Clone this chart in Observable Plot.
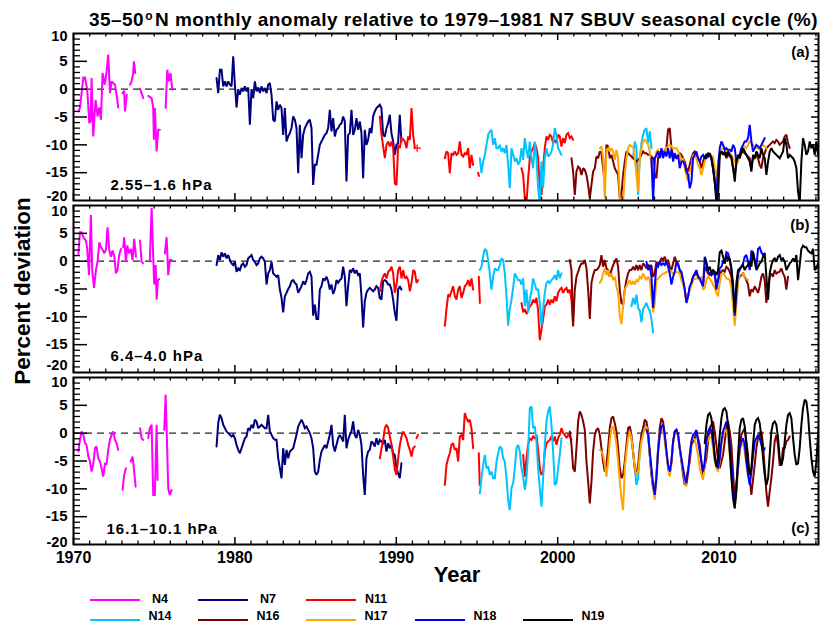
<!DOCTYPE html>
<html><head><meta charset="utf-8">
<script src="https://cdn.jsdelivr.net/npm/d3@7"></script>
<script src="https://cdn.jsdelivr.net/npm/@observablehq/plot@0.6"></script>
<style>
html,body{margin:0;padding:0;background:#fff;overflow:hidden}
#wrap{position:relative;width:823px;height:622px;font-family:"Liberation Sans",Arial,Helvetica,sans-serif;font-weight:bold;color:#000}
#title{position:absolute;left:0;top:0;width:823px;height:30px}
#title span.t{position:absolute;left:89px;top:10px;font-size:19px;line-height:19px;letter-spacing:0.3px;white-space:nowrap}
#chart{position:absolute;left:0;top:30px}
#ylab{position:absolute;left:23px;top:291px;transform:translate(-50%,-50%) rotate(-90deg);font-size:22.5px;white-space:nowrap;line-height:1}
#legend{position:absolute;left:0;top:594px;width:823px;height:28px}
.li{position:absolute;height:2.5px;width:50px}
.lt{position:absolute;font-size:12.5px;transform:translate(-50%,-50%);white-space:nowrap;line-height:11px}
</style>
</head><body>
<div id="wrap">
  <div id="title"><span class="t" id="ttl">35–50<span style="font-size:12px;position:relative;top:-6px;margin:0 2px 0 1px">o</span>N monthly anomaly relative to 1979–1981 N7 SBUV seasonal cycle (%)</span></div>
  <div id="chart"></div>
  <div id="ylab">Percent deviation</div>
  <div id="legend"></div>
</div>
<script>
// ---------------- series metadata ----------------
const SERIES = ["N4","N7","N11","N14","N16","N17","N18","N19"];
const COLORS = ["#ff00ff","#00007f","#ff0000","#00c3ff","#7f0000","#ffa500","#0000ff","#000000"];
const PANELS = ["a","b","c"];
const PANEL_TAGS = ["(a)","(b)","(c)"];
const PANEL_LEVELS = ["2.55–1.6 hPa","6.4–4.0 hPa","16.1–10.1 hPa"];
const X_TICKS = [1970,1980,1990,2000,2010];
const Y_TICKS = [10,5,0,-5,-10,-15,-20];
// sampling interval (years) of the digitised records
const STEP = 0.1032;

// ---------------- panel (a) 2.55–1.6 hPa ----------------
const N4_a = [
 {pts:[[1970.30,-4.0],[1970.40,-3.4],[1970.61,2.1],[1970.71,2.1],[1970.85,-0.1],[1970.98,-6.1],[1971.06,-5.8],[1971.12,2.0],[1971.22,-8.5],[1971.37,-1.9],[1971.49,-4.9],[1971.60,-3.3],[1971.70,-5.5],[1971.80,2.9],[1971.93,0.8],[1972.05,3.1],[1972.15,6.2],[1972.26,-0.7],[1972.36,1.4],[1972.46,1.1],[1972.57,0.8],[1972.67,-1.0],[1972.77,-3.3]]},
 {pts:[[1973.04,-0.7],[1973.14,-0.3],[1973.19,-4.0],[1973.30,-1.0]]},
 {pts:[[1973.50,0.8],[1973.60,1.4],[1973.70,2.9],[1973.74,5.0],[1973.83,2.9]]},
 {pts:[[1974.12,0.1],[1974.32,-1.6]]},
 {pts:[[1974.63,-1.2],[1974.84,-1.6],[1974.94,-3.4],[1974.98,-9.1],[1975.04,-3.4],[1975.15,-11.2],[1975.25,-7.3],[1975.35,-7.3]]},
 {pts:[[1975.71,-3.4],[1975.81,3.5],[1975.91,1.4],[1976.01,2.9],[1976.12,-0.1]]}
];
const N7_a = [{t0:1978.864, v:[2.0,-0.7,3.5,3.5,0.5,1.4,0.5,1.4,0.8,0.5,5.9,0.8,-3.3,0.0,-1.0,0.2,-0.4,0.5,-0.4,0.3,-6.4,0.0,-1.6,1.4,-0.4,0.3,-0.7,0.5,-0.4,0.2,-0.7,0.8,1.1,-1.0,-5.5,-5.8,-2.2,-3.7,-2.8,-3.4,-8.2,-3.4,-9.4,-8.5,-7.9,-7.0,-4.9,-5.5,-7.0,-15.1,-6.4,-12.4,-8.2,-7.0,-6.4,-5.8,-5.5,-7.0,-17.2,-13.6,-13.6,-11.8,-10.0,-9.4,-8.8,-8.2,-7.9,-7.0,-3.7,-7.6,-5.2,-8.5,-7.3,-7.0,-6.4,-6.1,-4.9,-5.8,-16.6,-8.2,-7.9,-3.7,-8.2,-7.3,-5.2,-7.3,-5.8,-7.9,-16.0,-7.3,-10.0,-9.1,-7.0,-7.9,-4.9,-4.0,-3.4,-3.1,-2.8,-3.4,-8.2,-8.5,-7.0,-6.1,-4.6,-7.9,-9.4,-11.8,-10.0,-9.7,-4.6,-9.4]}];
const N11_a = [
 {t0:1988.982, v:[-4.9,-8.2,-10.3,-12.4,-10.0,-9.4,-10.3,-9.4,-10.6,-17.0,-17.2,-10.0,-10.6,-8.8,-9.0,-9.4,-10.6,-8.5,-9.1,-3.4,-8.2,-10.6]},
 {t0:1993.007, v:[-12.4,-11.2,-11.5,-15.1,-11.5,-11.8,-11.2,-11.8,-11.5,-9.4,-11.8,-12.1,-11.5,-11.8,-10.6,-14.2,-11.8,-13.6]},
 {pts:[[1995.07,-15.0],[1995.12,-15.6]]},
 {t0:1997.757, v:[-14.2,-15.4,-19.6,-20.5,-16.0,-12.4,-11.2,-10.6,-9.7,-10.6,-12.4,-17.8,-19.0,-14.2,-10.6,-8.5,-9.1,-8.2,-8.5,-9.7,-9.1,-9.7,-8.2,-8.5,-10.3,-8.8,-9.7,-8.2,-7.9,-8.8,-8.5,-9.1]}
];
const N11_a_plus = [[1991.29,-10.6]];
const N14_a = [
 {t0:1995.176, v:[-12.4,-15.1,-13.0,-11.8,-10.0,-8.2,-7.6,-7.3,-10.0,-8.8,-10.6,-10.6,-10.0,-11.2,-10.6,-11.5,-10.0,-13.6,-17.8,-10.6,-11.8,-13.0,-12.4,-13.6,-13.0,-10.6,-12.7,-8.8,-10.9,-12.4,-9.4,-12.4,-14.2,-9.4,-12.4,-17.8,-20.5,-13.0,-17.8,-12.4,-10.6,-12.1,-11.8,-11.2,-10.0,-7.0,-8.2,-10.6,-11.2,-11.8]},
 {t0:2004.674, v:[-12.4,-9.4,-10.6,-19.0,-12.4,-9.7,-8.2,-7.3,-7.0,-9.7,-7.6,-10.6]}
];
const N16_a = [{t0:2000.854, v:[-12.4,-14.8,-19.0,-14.8,-13.9,-14.2,-15.4,-14.2,-14.5,-15.4,-17.2,-19.6,-17.2,-14.8,-14.2,-12.1,-12.4,-11.2,-11.5,-14.2,-16.6,-10.0,-10.3,-12.4,-11.8,-13.0,-14.2,-14.8,-15.4,-19.6,-19.0,-15.4,-13.0,-11.2,-11.5,-11.8,-12.1,-12.4,-12.7,-13.0,-12.7,-12.4,-11.8,-11.2,-11.5,-11.5,-11.8,-11.8,-12.1,-12.4,-15.4,-16.0,-12.4,-11.2,-11.5,-11.5,-11.0,-10.6,-7.3,-7.0,-10.6,-11.8,-12.1,-12.4,-12.0,-11.5,-11.8,-12.4,-13.0,-14.2,-14.8,-13.6,-12.4,-11.5,-11.2,-11.8,-12.4,-13.0,-14.2,-13.0,-12.1,-11.8,-11.5,-11.8,-12.4,-14.2,-16.6,-19.0,-14.2,-11.8,-11.2,-11.5,-11.8,-11.5,-11.8,-12.1,-12.4,-14.2,-15.4,-13.0,-12.1,-12.1,-11.5,-11.2,-11.5,-11.8,-12.1,-12.4,-14.2,-12.1,-12.4,-11.8,-12.4,-13.6,-14.2,-12.4,-11.5,-10.6,-10.3,-10.0,-9.7,-9.4,-9.7,-9.1,-9.4,-10.0,-9.7,-9.4,-8.5,-8.2,-9.7,-10.6]}];
const N17_a = [{t0:2002.609, v:[-10.6,-10.3,-12.4,-19.6,-10.9,-10.6,-11.2,-10.6,-11.2,-12.7,-10.9,-12.4,-19.6,-20.2,-20.2,-15.4,-12.4,-10.6,-10.0,-10.3,-10.3,-12.4,-15.4,-18.4,-12.4,-10.6,-9.4,-9.1,-9.4,-10.0,-11.2,-13.6,-16.0,-13.0,-11.2,-10.9,-11.8,-12.1,-12.1,-11.2,-10.6,-10.3,-10.0,-10.3,-10.6,-10.6,-10.6,-11.2,-11.8,-13.0,-12.4,-14.2,-15.4,-16.6,-14.8,-14.2,-11.8,-12.1,-12.4,-13.6,-14.2,-15.4,-14.2,-13.0,-12.1,-11.8,-11.8,-12.1,-12.1,-14.2,-17.8,-13.0,-11.2,-10.9,-10.6,-10.6,-10.9,-11.2,-11.5,-11.8,-12.4,-13.0,-13.6,-13.0,-11.8,-10.6,-10.3,-10.3,-10.6,-10.0,-9.4,-9.7,-10.0,-10.3,-10.6,-10.6,-10.9,-10.3,-10.0,-10.3,-10.6]}];
const N18_a = [{t0:2005.810, v:[-12.4,-20.2,-12.4,-11.8,-11.2,-12.4,-10.6,-12.4,-11.2,-12.1,-10.6,-12.4,-10.9,-13.0,-11.5,-12.4,-11.8,-14.2,-13.0,-13.0,-13.6,-14.8,-15.4,-17.8,-16.6,-12.4,-11.8,-11.2,-12.4,-13.0,-12.1,-11.8,-12.4,-12.4,-11.8,-11.8,-12.4,-14.2,-16.6,-19.0,-14.2,-10.6,-9.4,-10.0,-10.9,-10.6,-10.9,-10.9,-11.2,-10.0,-10.6,-13.0,-12.1,-11.8,-10.6,-10.0,-9.4,-9.4,-8.8,-6.4,-9.4,-11.2,-10.6,-10.0,-10.3,-10.6,-10.0,-9.4,-8.8]}];
const N19_a = [{t0:2009.113, v:[-12.4,-11.8,-12.1,-11.5,-12.4,-14.2,-16.6,-20.5,-19.0,-11.8,-11.2,-11.8,-11.2,-12.4,-11.2,-11.8,-12.1,-14.2,-16.6,-13.0,-11.8,-12.4,-11.2,-10.6,-11.2,-11.8,-12.4,-13.0,-14.8,-11.8,-12.4,-11.2,-11.8,-12.4,-10.6,-11.8,-12.4,-15.4,-13.0,-11.2,-10.6,-11.2,-11.5,-11.8,-12.1,-12.4,-11.8,-11.2,-8.8,-10.0,-12.4,-11.8,-12.1,-12.4,-13.0,-14.2,-18.4,-20.5,-13.0,-8.8,-10.0,-11.8,-11.2,-9.4,-10.6,-10.0,-11.8,-9.4,-11.8,-10.6]}];

// ---------------- panel (b) 6.4–4.0 hPa ----------------
const N4_b = [
 {pts:[[1970.30,1.1],[1970.40,5.2],[1970.50,5.2],[1970.61,4.3],[1970.77,3.7],[1970.85,2.2],[1970.96,-2.5],[1971.08,8.3],[1971.16,-1.6],[1971.27,-4.8],[1971.39,-1.6],[1971.49,-0.1],[1971.60,3.4],[1971.70,2.5],[1971.80,2.1],[1971.91,1.4],[1972.01,2.1],[1972.11,6.1],[1972.22,1.9],[1972.32,0.8],[1972.42,1.9],[1972.53,0.8],[1972.63,-2.2],[1972.73,-1.6],[1972.83,1.1],[1972.94,2.2]]},
 {pts:[[1973.08,2.5],[1973.14,4.3],[1973.25,-0.1],[1973.33,2.8],[1973.45,1.4],[1973.56,2.2],[1973.66,0.2],[1973.76,4.0],[1973.87,0.8]]},
 {pts:[[1974.12,3.7],[1974.22,-0.1],[1974.32,-0.4]]},
 {pts:[[1974.73,0.2],[1974.84,9.6],[1974.94,0.8],[1975.00,-4.2],[1975.09,-0.7],[1975.15,-6.9],[1975.23,-3.4],[1975.31,-3.2]]},
 {pts:[[1975.66,1.4],[1975.77,4.3],[1975.87,-2.5],[1975.97,0.2],[1976.08,0.2]]}
];
const N7_b = [{t0:1978.864, v:[-0.7,1.1,0.2,1.6,0.8,1.4,0.5,1.1,0.2,-0.4,-0.7,-0.1,-1.9,-1.3,-1.6,-0.7,-0.4,-1.0,-0.7,0.5,0.8,1.1,0.2,-0.1,-0.7,-0.4,0.5,0.8,0.5,-0.1,-4.2,-2.2,-1.6,-0.1,-2.2,-2.5,-2.8,-2.5,-5.1,-6.6,-9.2,-6.3,-5.7,-5.0,-4.5,-3.6,-3.4,-3.9,-4.2,-5.7,-5.1,-4.5,-3.6,-4.2,-3.4,-2.2,-1.9,-2.8,-9.8,-7.8,-10.4,-10.4,-5.1,-4.5,-3.1,-3.4,-2.8,-3.6,-5.1,-4.2,-5.9,-5.1,-3.4,-3.9,-3.4,-3.1,-1.0,-2.8,-8.1,-4.5,-1.6,-1.9,-1.3,-2.2,-1.6,-2.5,-2.2,-6.3,-11.9,-7.2,-5.7,-5.1,-4.8,-5.1,-5.4,-5.1,-4.5,-4.8,-6.6,-6.9,-3.6,-3.4,-3.6,-4.2,-4.2,-5.1,-6.9,-9.2,-10.7,-5.1,-4.5,-5.1]}];
const N11_b = [
 {t0:1988.982, v:[-5.4,-3.6,-2.8,-2.2,-3.1,-1.9,-1.6,-1.0,-2.2,-5.7,-4.2,-1.6,-1.0,-3.1,-1.6,-3.1,-2.8,-3.4,-5.4,-3.9,-1.6,-1.9,-3.9,-3.4]},
 {t0:1993.007, v:[-11.6,-8.6,-6.0,-6.3,-5.4,-4.5,-6.3,-6.9,-5.1,-4.5,-6.6,-5.7,-4.5,-4.2,-3.4,-4.5,-3.1,-5.1]},
 {pts:[[1995.11,-2.8],[1995.18,-7.5]]},
 {t0:1997.757, v:[-7.5,-9.2,-8.6,-9.5,-8.9,-8.1,-7.8,-6.9,-7.5,-6.6,-8.9,-14.2,-12.2,-10.4,-8.1,-7.8,-6.9,-7.8,-6.9,-7.5,-6.3,-7.2,-5.7,-5.1,-4.8,-5.7,-5.1,-4.8,-5.7,-5.1,-6.9,-11.6]}
];
const N14_b = [
 {t0:1995.176, v:[-1.6,-1.0,0.8,2.2,1.9,0.2,-2.2,-5.1,-2.8,-1.3,-1.6,-1.6,-0.7,0.5,0.2,-2.2,-6.3,-11.6,-8.6,-6.9,-4.8,-2.2,-2.8,-3.4,-3.4,-4.2,-3.1,-8.1,-5.1,-9.2,-6.9,-5.4,-3.1,-4.2,-5.1,-5.1,-7.5,-11.6,-8.6,-5.7,-3.9,-3.6,-3.9,-3.4,-3.1,-2.5,-3.4,-1.6,-3.1,-2.2]},
 {t0:2004.571, v:[-8.1,-6.6,-7.8,-6.0,-8.4,-8.9,-11.0,-8.6,-8.1,-7.5,-8.4,-8.9,-10.4,-12.8]}
];
const N16_b = [{t0:2000.751, v:[0.2,-1.6,-11.6,-5.1,-2.8,-1.9,-1.0,-0.4,-0.4,0.2,-1.3,-5.1,-10.4,-3.9,-2.5,-1.6,-1.6,-1.3,-0.7,1.1,-1.0,0.2,-1.3,-1.6,-2.8,-1.6,-0.7,-0.1,0.5,-1.0,-5.1,-7.5,-7.8,-5.1,-3.4,-2.2,-1.6,-1.6,-1.0,-1.6,-0.7,-1.6,-0.7,-1.6,-0.4,-0.7,-1.3,-0.7,-1.0,-0.7,-2.8,-2.2,-0.1,-0.7,-0.1,0.5,0.2,0.8,-0.1,0.2,-1.0,-1.6,-0.4,0.8,-0.1,-0.4,-1.6,-2.5,-3.6,-5.1,-7.2,-6.3,-4.8,-3.9,-2.8,-2.5,-2.2,-2.8,-3.1,-3.6,-4.5,-1.0,-1.6,-2.2,-2.5,-2.5,-2.2,-2.5,-4.2,-3.6,-2.2,-1.9,-1.6,-1.9,-1.0,-1.3,-1.9,-2.8,-5.1,-9.8,-6.0,-3.4,-2.8,-2.5,-2.2,-2.8,-3.4,-4.2,-6.3,-5.1,-5.4,-4.5,-5.1,-5.7,-4.5,-2.8,-2.2,-3.4,-7.5,-5.1,-2.8,-2.2,-2.8,-1.6,-2.2,-2.0,-1.9,-1.3,-2.2,-2.8,-5.1,-2.8]}];
const N17_b = [{t0:2002.609, v:[-3.9,-3.4,-2.2,-1.3,-2.5,-1.6,-2.8,-2.2,-3.4,-2.8,-4.5,-5.7,-9.8,-11.3,-8.1,-5.1,-4.5,-3.9,-3.4,-4.2,-3.6,-4.2,-3.4,-3.6,-2.8,-3.1,-2.2,-2.8,-3.4,-2.8,-3.4,-6.3,-9.2,-7.5,-3.4,-3.1,-2.8,-2.5,-2.2,-2.2,-1.9,-1.9,-1.6,-1.9,-2.2,-2.0,-1.9,-2.0,-2.2,-3.4,-4.2,-5.1,-7.5,-6.3,-5.1,-4.5,-3.4,-3.2,-3.1,-3.2,-3.4,-2.8,-5.1,-4.8,-3.4,-2.8,-3.1,-3.6,-4.2,-4.8,-5.7,-6.3,-3.9,-2.5,-2.2,-2.5,-3.1,-3.2,-3.4,-4.8,-8.1,-11.6,-8.1,-3.9,-2.5,-2.3,-2.2,-2.8,-3.1,-3.4]}];
const N18_b = [{t0:2005.500, v:[-0.1,-1.6,-0.7,-2.8,-8.4,-4.5,-0.7,-1.0,-0.1,-0.7,-0.4,-0.7,-0.1,-1.0,-2.2,-4.2,-2.8,-1.9,-0.1,-0.7,-1.6,-1.9,-3.4,-5.1,-7.5,-6.3,-4.5,-3.9,-2.8,-2.2,-1.6,-2.8,-3.1,-3.9,-4.5,0.8,-0.1,-1.9,-2.2,-2.5,-1.6,-2.2,-5.1,-3.4,-1.3,-1.0,-0.1,-0.4,1.6,1.4,0.2,-1.6,-3.9,-9.8,-5.7,-2.2,-1.6,-1.0,-0.4,0.8,1.1,-0.1,-1.6,1.9,1.6,0.2,-1.0,2.2,2.5,1.6,1.1,1.4]}];
const N19_b = [{t0:2009.113, v:[0.5,-0.7,-1.6,-1.0,-2.2,-1.6,-1.9,-2.5,-1.6,1.6,1.9,0.8,-0.4,1.1,0.2,0.5,-1.3,-5.1,-9.2,-3.9,-1.6,-1.3,-1.0,-0.7,-1.6,-1.0,-0.7,-0.1,-1.0,1.6,-0.1,-1.6,-1.0,-0.4,-0.1,0.8,1.4,-2.8,-6.9,-2.2,-0.7,0.2,0.5,-0.1,0.8,1.1,0.2,0.5,-0.1,-1.6,-1.0,-0.4,-0.1,0.5,-0.1,1.1,-3.4,-0.7,2.2,2.8,2.5,2.5,1.9,1.6,1.4,2.2,-1.6,-1.3,-0.4,-0.1]}];

// ---------------- panel (c) 16.1–10.1 hPa ----------------
const N4_c = [
 {pts:[[1970.30,-3.3],[1970.40,-1.2],[1970.50,0.3],[1970.61,-0.3],[1970.71,-1.8],[1970.81,-2.1],[1970.92,-4.2],[1971.02,-5.1],[1971.12,-6.9],[1971.22,-5.7],[1971.33,-2.7],[1971.43,-2.4],[1971.53,-4.5],[1971.64,-5.1],[1971.74,-6.3],[1971.84,-7.8],[1971.95,-5.4],[1972.05,-5.7],[1972.15,-3.0],[1972.26,-1.2],[1972.36,-0.3],[1972.46,0.3],[1972.57,-1.2],[1972.67,-1.8],[1972.77,-3.0]]},
 {pts:[[1973.04,-10.2],[1973.14,-7.5],[1973.25,-6.3]]},
 {pts:[[1973.54,-5.1],[1973.66,-4.2],[1973.74,-6.3],[1973.85,-9.6]]},
 {pts:[[1974.12,0.9],[1974.22,-0.9],[1974.32,-1.2]]},
 {pts:[[1974.63,-0.9],[1974.73,0.9],[1974.84,1.5],[1974.94,-11.1],[1975.04,-11.1],[1975.15,1.5],[1975.21,-8.4]]},
 {pts:[[1975.62,0.6],[1975.71,6.9],[1975.77,0.9],[1975.87,-9.9],[1975.97,-11.1],[1976.08,-10.2]]}
];
const N7_c = [{t0:1978.864, v:[-2.4,1.8,3.3,2.7,1.5,0.9,0.3,0.0,-0.3,-0.6,-0.3,-0.9,-2.1,-3.0,-3.6,-2.7,-1.8,-0.9,-0.6,0.9,0.6,1.5,0.9,2.4,2.1,0.9,1.2,1.5,1.2,0.9,0.9,3.3,0.3,-0.3,-0.9,-1.2,-1.2,-4.5,-6.3,-8.1,-2.7,-5.7,-3.0,-4.5,-3.3,-3.0,-2.7,-1.5,-0.3,1.2,1.8,2.4,1.8,0.9,1.2,0.6,0.0,-0.9,-2.7,-6.9,-7.5,-6.9,-4.8,-3.3,-2.7,-2.1,-2.7,-1.5,-0.3,1.5,-2.1,-3.3,-2.1,-0.9,-0.3,-0.9,-1.5,3.3,-2.7,-1.2,-0.3,0.3,2.1,-0.3,-0.9,0.6,-0.3,-2.1,-7.5,-11.1,-4.5,-3.3,-3.0,-1.5,-1.8,-2.4,-0.9,-2.1,-1.2,-1.5,-1.8,-1.2,-3.3,-1.8,-2.7,-2.1,-3.6,-3.9,-6.3,-7.2,-8.1,-5.4]}];
const N11_c = [
 {t0:1988.982, v:[-4.5,-2.7,-1.2,0.9,1.5,0.9,-0.6,-2.1,-4.2,-6.6,-7.5,-4.5,-2.1,-0.6,0.3,-0.3,-0.9,-2.1,-3.0,-4.2,-2.7,-2.4]},
 {pts:[[1991.25,-0.9],[1991.35,-0.3]]},
 {t0:1993.007, v:[-9.3,-5.7,-4.5,-3.6,-2.1,-1.8,-3.0,-2.7,-5.1,-0.6,-0.3,-1.2,3.6,2.7,2.1,2.4,0.9,-2.7]},
 {pts:[[1995.11,-3.6],[1995.17,-9.3]]},
 {t0:1997.860, v:[-3.9,-7.8,-4.5,-2.1,-0.9,-1.2,-0.6,-0.9,-0.3,-3.0,-6.3,-7.5,-6.9,-3.3,-1.8,-1.5,-1.2,-0.6,-1.5,-0.6,-2.1,-0.9,-0.3,0.9,0.0,-0.3,-0.9,-0.3,-0.6,-1.2]}
];
const N14_c = [
 {t0:1995.176, v:[-10.8,-8.1,-5.7,-3.9,-6.3,-6.0,-7.5,-6.9,-8.1,-8.1,-5.1,-3.6,-2.4,-2.7,-4.5,-5.1,-8.1,-12.0,-13.8,-9.9,-9.0,-6.3,-2.7,-2.1,-3.3,-6.3,-7.8,-10.2,-8.1,-3.3,4.5,4.8,0.9,1.2,-1.5,-6.3,-9.9,-13.2,-8.1,-2.1,2.1,3.9,4.8,1.5,-3.3,-9.3,-9.0,-6.3,-3.9,-0.9]},
 {t0:2004.571, v:[-0.9,-3.3,-6.3,-9.3,-8.1,-3.3,-0.3,0.9,1.5,0.9,-0.3,-3.9,-7.5]}
];
const N16_c = [{t0:2000.751, v:[0.3,-2.1,-6.3,-6.9,-2.7,2.1,3.9,3.3,2.1,0.6,-5.1,-8.7,-12.6,-8.7,-3.3,-0.3,0.6,0.9,-0.3,-2.7,-5.1,-6.9,-5.7,-2.7,0.9,2.7,3.0,1.8,0.3,-2.7,-6.3,-8.1,-7.5,-5.1,-2.1,0.9,1.2,-0.3,-3.3,-6.3,-7.5,-5.7,-2.7,-0.3,0.9,2.4,2.1,0.3,-3.9,-7.5,-9.9,-10.5,-7.5,-2.7,0.9,2.7,2.1,-0.3,-3.3,-6.3,-7.5,-5.1,-1.5,0.3,0.6,-0.3,-2.7,-5.1,-7.5,-9.3,-8.1,-6.6,-5.1,-2.1,-1.5,-0.9,0.3,-0.9,-2.1,-5.1,-7.5,-6.0,-4.5,-1.5,0.9,1.5,2.1,0.3,-2.1,-4.8,-6.3,-5.1,-3.9,-1.5,0.9,2.1,0.3,-2.1,-7.0,-11.7,-9.0,-6.3,-2.7,-0.3,0.3,0.9,-1.5,-3.9,-8.0,-11.1,-8.4,-5.7,-2.7,-0.9,0.0,0.3,-2.0,-6.3,-10.5,-13.2,-10.5,-8.1,-5.1,-1.5,-0.3,-2.1,-5.7,-5.7,-2.7,-2.7,-1.5,-1.2,-0.6]}];
const N17_c = [{t0:2002.609, v:[-3.0,-3.3,-3.9,-5.7,-7.8,-5.1,-1.5,0.9,1.2,0.0,-2.1,-5.1,-8.7,-11.7,-13.8,-6.3,-3.3,-0.9,0.3,-0.9,-3.3,-6.3,-7.5,-6.9,-3.9,-1.5,-0.3,0.9,1.2,-0.3,-3.9,-6.9,-9.9,-12.0,-8.1,-3.3,-0.3,0.6,0.3,-1.5,-3.9,-6.0,-7.8,-5.7,-2.1,-0.3,0.3,-0.6,-2.7,-4.8,-6.9,-8.7,-9.6,-7.5,-3.9,-1.5,-0.9,-1.2,-2.4,-3.9,-6.3,-7.5,-8.4,-5.7,-2.1,-1.2,-0.6,-0.9,-2.7,-5.1,-6.3,-6.9,-5.1,-2.1,-0.6,0.3,0.6,-0.9,-3.9,-7.5,-11.1,-13.5,-11.1,-6.3,-3.3,-2.1,-1.8,-3.3,-5.7,-7.5,-8.1,-6.3,-3.3,-1.8]}];
const N18_c = [{t0:2005.500, v:[0.6,-0.3,-3.3,-6.3,-9.3,-11.1,-8.1,-3.3,-0.3,1.2,1.5,-0.3,-3.3,-5.7,-6.9,-5.1,-1.5,0.3,0.6,-0.3,-2.7,-4.5,-6.3,-8.1,-9.0,-6.9,-3.9,-1.5,-0.3,0.0,0.6,-1.5,-3.3,-5.1,-6.9,-5.1,-1.5,0.3,0.9,0.3,-1.5,-3.9,-5.7,-6.3,-4.5,-1.5,0.3,1.2,2.1,1.2,-2.1,-5.7,-9.9,-12.9,-9.9,-5.7,-2.7,-1.5,-0.9,-2.1,-5.1,-7.5,-9.3,-6.9,-3.9,-1.5,-0.9,-0.3,-0.9,-2.1,-3.3,-2.7]}];
const N19_c = [{t0:2009.113, v:[-1.8,1.5,3.3,3.6,2.7,-0.3,-4.5,-6.0,-4.5,-0.3,2.7,4.2,4.5,3.9,1.5,-3.3,-8.1,-11.7,-13.5,-9.9,-3.9,0.9,2.4,2.7,1.2,-2.1,-5.7,-7.5,-6.3,-2.1,1.5,2.4,2.7,1.8,-0.9,-4.5,-7.5,-9.3,-8.1,-3.9,0.3,1.8,2.1,1.5,-0.9,-4.5,-5.7,-4.5,-1.5,1.5,3.3,3.6,2.7,-0.9,-3.9,-5.7,-5.4,-2.7,1.5,4.5,6.0,5.7,3.3,-0.9,-4.5,-6.9,-7.8,-5.1,-0.3,3.3]}];

// ---------------- build a long table ----------------
const DATA = {
  a: {N4:N4_a, N7:N7_a, N11:N11_a, N14:N14_a, N16:N16_a, N17:N17_a, N18:N18_a, N19:N19_a},
  b: {N4:N4_b, N7:N7_b, N11:N11_b, N14:N14_b, N16:N16_b, N17:N17_b, N18:N18_b, N19:N19_b},
  c: {N4:N4_c, N7:N7_c, N11:N11_c, N14:N14_c, N16:N16_c, N17:N17_c, N18:N18_c, N19:N19_c}
};
const rows = [];
for (const panel of PANELS) {
  for (const s of SERIES) {
    DATA[panel][s].forEach((seg, k) => {
      const id = panel + s + "_" + k;
      if (seg.pts) seg.pts.forEach(([t, v]) => rows.push({panel, series: s, id, year: t, value: v}));
      else seg.v.forEach((v, i) => rows.push({panel, series: s, id, year: seg.t0 + i * STEP, value: v}));
    });
  }
}

// ---------------- tick positions ----------------
const X0 = 1970, X1 = 2016.16, Y0 = -20, Y1 = 10;
const PXYR = 745 / (X1 - X0);     // px per year
const PXU = 167.3 / (Y1 - Y0);     // px per percent
const yearsMinor = d3.range(1971, 2017).filter(y => y % 10 !== 0);
const yearsMajor = d3.range(1970, 2017, 10);
const yMinor = d3.range(-19, 10).filter(v => v % 5 !== 0);
const yMajor = d3.range(-15, 10, 5);

// vertical nudges of the end labels (10 / -20) in each panel
const TOP_DY = {a: 3, b: 6, c: 5};
const BOT_DY = {a: -4.5, b: -7, c: -2};
const endLabelMarks = PANELS.flatMap(p => [
  Plot.text([10], {y: d => d, text: d => String(d), fy: () => p, frameAnchor: "left", dx: -6, dy: TOP_DY[p], textAnchor: "end", fontSize: 14.5}),
  Plot.text([-20], {y: d => d, text: d => String(d), fy: () => p, frameAnchor: "left", dx: -6, dy: BOT_DY[p], textAnchor: "end", fontSize: 14.5})
]);

const plot = Plot.plot({
  width: 823, height: 564,
  marginLeft: 73, marginRight: 5, marginTop: 3, marginBottom: 49,
  x: {domain: [X0, X1], axis: null},
  y: {domain: [Y0, Y1], axis: null},
  fy: {domain: PANELS, paddingInner: 0.029, paddingOuter: 0, axis: null, label: null},
  color: {type: "ordinal", domain: SERIES, range: COLORS},
  style: {fontFamily: "'Liberation Sans', Arial, Helvetica, sans-serif", fontWeight: "bold", fontSize: "15px", color: "#000", background: "#fff", overflow: "visible"},
  marks: [
    Plot.ruleY([0], {stroke: "#222", strokeWidth: 1.2, strokeDasharray: "7,5"}),
    Plot.line(rows, {x: "year", y: "value", z: "id", stroke: "series", fy: "panel", strokeWidth: 2, clip: true, strokeLinejoin: "miter", strokeMiterlimit: 2}),
    Plot.dot(N11_a_plus, {x: d => d[0], y: d => d[1], fy: () => "a", symbol: "plus", r: 2.5, stroke: "#ff0000", strokeWidth: 1.2}),
    // left ticks
    Plot.ruleY(yMinor, {y: d => d, x1: X0, x2: X0 + 7 / PXYR, stroke: "#000", strokeWidth: 1.3}),
    Plot.ruleY(yMajor, {y: d => d, x1: X0, x2: X0 + 14 / PXYR, stroke: "#000", strokeWidth: 1.5}),
    // right ticks
    Plot.ruleY(yMinor, {y: d => d, x1: X1 - 3.5 / PXYR, x2: X1, stroke: "#000", strokeWidth: 1.3}),
    Plot.ruleY(yMajor, {y: d => d, x1: X1 - 7 / PXYR, x2: X1, stroke: "#000", strokeWidth: 1.5}),
    // bottom & top ticks
    Plot.ruleX(yearsMinor, {x: d => d, y1: Y0, y2: Y0 + 3.5 / PXU, stroke: "#000", strokeWidth: 1.3}),
    Plot.ruleX(yearsMajor, {x: d => d, y1: Y0, y2: Y0 + 7 / PXU, stroke: "#000", strokeWidth: 1.5}),
    Plot.ruleX(yearsMinor, {x: d => d, y1: Y1 - 3.5 / PXU, y2: Y1, stroke: "#000", strokeWidth: 1.3}),
    Plot.ruleX(yearsMajor, {x: d => d, y1: Y1 - 7 / PXU, y2: Y1, stroke: "#000", strokeWidth: 1.5}),
    Plot.frame({stroke: "#000", strokeWidth: 2}),
    // y tick labels
    Plot.text(Y_TICKS.filter(v => v !== 10 && v !== -20), {y: d => d, text: d => String(d), frameAnchor: "left", dx: -6, textAnchor: "end", fontSize: 15}),
    ...endLabelMarks,
    // x tick labels (bottom panel only)
    Plot.text(X_TICKS, {x: d => d, text: d => String(d), fy: () => "c", frameAnchor: "bottom", dy: 18, fontSize: 16}),
    Plot.text(["Year"], {text: d => d, fy: () => "c", frameAnchor: "bottom", dx: 11, dy: 37, fontSize: 22}),
    // panel tags
    Plot.text([0], {text: () => PANEL_TAGS[0], fy: () => "a", frameAnchor: "top-right", textAnchor: "end", lineAnchor: "middle", dx: -9, dy: 19, fontSize: 15}),
    Plot.text([0], {text: () => PANEL_TAGS[1], fy: () => "b", frameAnchor: "top-right", textAnchor: "end", lineAnchor: "middle", dx: -9, dy: 20, fontSize: 15}),
    Plot.text([0], {text: () => PANEL_TAGS[2], fy: () => "c", frameAnchor: "bottom-right", textAnchor: "end", lineAnchor: "middle", dx: -9, dy: -16, fontSize: 15}),
    // pressure levels
    Plot.text([0], {text: () => PANEL_LEVELS[0], fy: () => "a", frameAnchor: "bottom-left", textAnchor: "start", lineAnchor: "middle", dx: 37, dy: -15, fontSize: 15}),
    Plot.text([0], {text: () => PANEL_LEVELS[1], fy: () => "b", frameAnchor: "bottom-left", textAnchor: "start", lineAnchor: "middle", dx: 37, dy: -16, fontSize: 15}),
    Plot.text([0], {text: () => PANEL_LEVELS[2], fy: () => "c", frameAnchor: "bottom-left", textAnchor: "start", lineAnchor: "middle", dx: 33, dy: -15, fontSize: 15})
  ]
});
plot.querySelectorAll("text").forEach(t => {
  if (/hPa/.test(t.textContent)) t.setAttribute("letter-spacing", "1");
});
document.getElementById("chart").appendChild(plot);

// fit the title between x = 89 and x = 818
(function fitTitle() {
  const el = document.getElementById("ttl");
  const target = 729;
  const n = el.textContent.length;
  const w = el.getBoundingClientRect().width;
  const ls = 0.3 + (target - w) / n;
  el.style.letterSpacing = Math.max(-0.5, Math.min(1.2, ls)) + "px";
})();

// ---------------- legend ----------------
const LEG_ROWS = [["N4","N7","N11"],["N14","N16","N17","N18","N19"]];
const LEG_X = [90, 198, 306, 415, 523];
const LEG_LINE_Y = [6, 26];
const LEG_TEXT_Y = [5, 22];
const leg = document.getElementById("legend");
LEG_ROWS.forEach((row, r) => row.forEach((name, c) => {
  const col = COLORS[SERIES.indexOf(name)];
  const ln = document.createElement("div");
  ln.className = "li";
  ln.style.left = LEG_X[c] + "px";
  ln.style.top = (LEG_LINE_Y[r] - 1.25) + "px";
  ln.style.background = col;
  leg.appendChild(ln);
  const tx = document.createElement("div");
  tx.className = "lt";
  tx.style.left = (LEG_X[c] + 70) + "px";
  tx.style.top = LEG_TEXT_Y[r] + "px";
  tx.textContent = name;
  leg.appendChild(tx);
}));
</script>
</body></html>
